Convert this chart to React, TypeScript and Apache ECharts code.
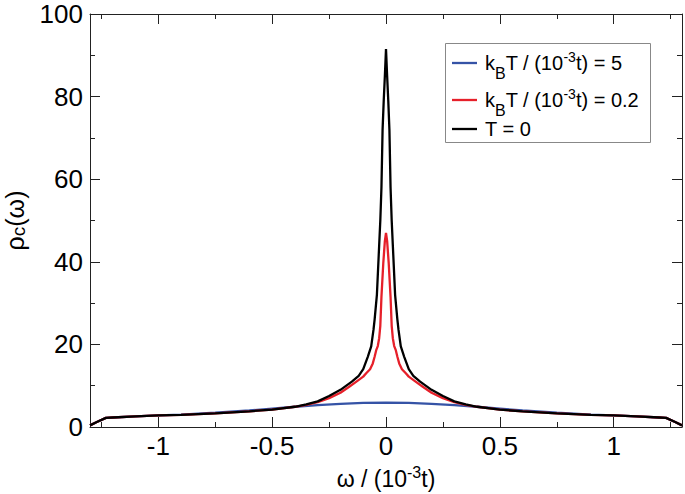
import React, { useEffect, useRef } from "react";
import * as echarts from "echarts";

const FONT = "Liberation Sans, Arial, Helvetica, sans-serif";

const seriesNames = ["kBT/(1e-3 t) = 5", "kBT/(1e-3 t) = 0.2", "T = 0"];
const legendLabels = [
  "{n|k}{sub|B}{n|T / (10}{sup|-3}{n|t) = 5}",
  "{n|k}{sub|B}{n|T / (10}{sup|-3}{n|t) = 0.2}",
  "{n|T = 0}",
];
const seriesColors = ["#3553a6", "#e6202a", "#000000"];

const xMajorTicks = [-1, -0.5, 0, 0.5, 1];
const xMinorTicks = [-1.25, -0.75, -0.25, 0.25, 0.75, 1.25];

// T = 0 (black)
const blackOmega = [
  -1.3, -1.27, -1.23, -1.2, -1.1, -1.0, -0.9, -0.75, -0.6, -0.5, -0.4, -0.35, -0.3, -0.25, -0.2, -0.15,
  -0.12, -0.1, -0.08, -0.065, -0.055, -0.05, -0.04, -0.03, -0.025, -0.02, -0.015, -0.01, -0.005, 0,
  0.005, 0.01, 0.015, 0.02, 0.025, 0.03, 0.04, 0.05, 0.055, 0.065, 0.08, 0.1, 0.12, 0.15, 0.2, 0.25,
  0.3, 0.35, 0.4, 0.5, 0.6, 0.75, 0.9, 1.0, 1.1, 1.2, 1.23, 1.27, 1.3,
];
const blackRho = [
  0.4, 1.2, 2.2, 2.3, 2.55, 2.8, 2.95, 3.3, 3.8, 4.2, 4.9, 5.5, 6.2, 7.5, 9.0, 11.0,
  12.4, 14.0, 17.0, 19.5, 23.5, 26.0, 32.0, 44.0, 50.0, 58.0, 72.0, 79.0, 85.0, 91.5,
  85.0, 79.0, 72.0, 58.0, 50.0, 44.0, 32.0, 26.0, 23.5, 19.5, 17.0, 14.0, 12.4, 11.0, 9.0, 7.5,
  6.2, 5.5, 4.9, 4.2, 3.8, 3.3, 2.95, 2.8, 2.55, 2.3, 2.2, 1.2, 0.4,
];

// kBT = 0.2 (red)
const redOmega = [
  -1.3, -1.27, -1.23, -1.2, -1.1, -1.0, -0.9, -0.75, -0.6, -0.5, -0.4, -0.35, -0.3, -0.25, -0.2, -0.16,
  -0.13, -0.1, -0.087, -0.07, -0.058, -0.05, -0.043, -0.036, -0.03, -0.025, -0.02, -0.012, -0.005, 0,
  0.005, 0.012, 0.02, 0.025, 0.03, 0.036, 0.043, 0.05, 0.058, 0.07, 0.087, 0.1, 0.13, 0.16, 0.2, 0.25,
  0.3, 0.35, 0.4, 0.5, 0.6, 0.75, 0.9, 1.0, 1.1, 1.2, 1.23, 1.27, 1.3,
];
const redRho = [
  0.4, 1.2, 2.2, 2.3, 2.55, 2.8, 2.95, 3.3, 3.8, 4.2, 4.9, 5.35, 6.0, 7.0, 8.3, 9.8,
  11.0, 12.2, 13.0, 14.0, 15.4, 17.0, 18.6, 19.6, 21.5, 24.5, 31.5, 39.6, 45.0, 47.0,
  45.0, 39.6, 31.5, 24.5, 21.5, 19.6, 18.6, 17.0, 15.4, 14.0, 13.0, 12.2, 11.0, 9.8, 8.3, 7.0,
  6.0, 5.35, 4.9, 4.2, 3.8, 3.3, 2.95, 2.8, 2.55, 2.3, 2.2, 1.2, 0.4,
];

// kBT = 5 (blue)
const blueOmega = [
  -1.3, -1.27, -1.23, -1.2, -1.1, -1.0, -0.9, -0.75, -0.6, -0.5, -0.4, -0.3, -0.2, -0.1, 0,
  0.1, 0.2, 0.3, 0.4, 0.5, 0.6, 0.75, 0.9, 1.0, 1.1, 1.2, 1.23, 1.27, 1.3,
];
const blueRho = [
  0.4, 1.2, 2.2, 2.3, 2.55, 2.8, 3.0, 3.45, 4.0, 4.45, 4.9, 5.3, 5.6, 5.85, 5.9,
  5.85, 5.6, 5.3, 4.9, 4.45, 4.0, 3.45, 3.0, 2.8, 2.55, 2.3, 2.2, 1.2, 0.4,
];

const zip = (xs: number[], ys: number[]) => xs.map((x, i) => [x, ys[i]]);

export default function App() {
  const ref = useRef<HTMLDivElement>(null);
  useEffect(() => {
    if (!ref.current) return;
    const chart = echarts.init(ref.current, undefined, { renderer: "svg" });
    const gridRect = { left: 90, top: 14, width: 592, height: 413, containLabel: false, outerBoundsMode: "none" };
    const axisLine = { show: true, onZero: false, lineStyle: { color: "#222", width: 1 } };
    const noLine = { show: false, onZero: false };
    const tickStyle = { color: "#222", width: 1 };

    const legendRich = {
      n: { fontSize: 20, fontFamily: FONT, fill: "#000" },
      sup: { fontSize: 14, fontFamily: FONT, fill: "#000", padding: [0, 0, 12, 0] },
      sub: { fontSize: 16, fontFamily: FONT, fill: "#000", padding: [20, 0, 0, 0] },
    };
    const legendRowsY = [63, 100, 129];
    const legendGraphic: any[] = [
      {
        type: "rect",
        shape: { x: 445.5, y: 43.5, width: 205, height: 99 },
        style: { fill: "#fff", stroke: "#888", lineWidth: 1 },
        z: 100,
      },
    ];
    seriesNames.forEach((_, i) => {
      legendGraphic.push({
        type: "line",
        shape: { x1: 452, y1: legendRowsY[i], x2: 477, y2: legendRowsY[i] },
        style: { stroke: seriesColors[i], lineWidth: 2.3 },
        z: 101,
      });
      legendGraphic.push({
        type: "text",
        x: 485,
        y: legendRowsY[i],
        style: {
          text: legendLabels[i],
          rich: legendRich,
          fontSize: 20,
          fontFamily: FONT,
          fill: "#000",
          verticalAlign: "middle",
          align: "left",
        },
        z: 101,
      });
    });

    const option: any = {
      animation: false,
      backgroundColor: "#fff",
      textStyle: { fontFamily: FONT },
      grid: [{ ...gridRect }, { ...gridRect }],
      graphic: legendGraphic,
      xAxis: [
        {
          gridIndex: 0,
          type: "value",
          position: "bottom",
          min: -1.3,
          max: 1.3,
          axisLine,
          splitLine: { show: false },
          axisTick: { show: true, inside: true, length: 10, lineStyle: tickStyle, customValues: xMajorTicks },
          axisLabel: {
            show: true,
            customValues: xMajorTicks,
            fontSize: 26,
            fontFamily: FONT,
            color: "#000",
            margin: 6,
          },
          name: "{n|ω / (10}{sup|-3}{n|t)}",
          nameLocation: "middle",
          nameGap: 38,
          nameTextStyle: {
            fontFamily: FONT,
            fontSize: 23,
            color: "#000",
            rich: {
              n: { fontSize: 23, lineHeight: 28, fontFamily: FONT, color: "#000" },
              sup: { fontSize: 16, lineHeight: 14, padding: [0, 0, 14, 0], fontFamily: FONT, color: "#000" },
            },
          },
        },
        {
          gridIndex: 0,
          type: "value",
          position: "top",
          min: -1.3,
          max: 1.3,
          axisLine,
          splitLine: { show: false },
          axisTick: { show: true, inside: true, length: 10, lineStyle: tickStyle, customValues: xMajorTicks },
          axisLabel: { show: false },
        },
        {
          gridIndex: 1,
          type: "value",
          position: "bottom",
          min: -1.3,
          max: 1.3,
          axisLine: noLine,
          splitLine: { show: false },
          axisTick: { show: true, inside: true, length: 5, lineStyle: tickStyle, customValues: xMinorTicks },
          axisLabel: { show: false },
        },
        {
          gridIndex: 1,
          type: "value",
          position: "top",
          min: -1.3,
          max: 1.3,
          axisLine: noLine,
          splitLine: { show: false },
          axisTick: { show: true, inside: true, length: 5, lineStyle: tickStyle, customValues: xMinorTicks },
          axisLabel: { show: false },
        },
      ],
      yAxis: [
        {
          gridIndex: 0,
          type: "value",
          position: "left",
          min: 0,
          max: 100,
          interval: 20,
          axisLine,
          splitLine: { show: false },
          axisTick: { show: true, inside: true, length: 10, lineStyle: tickStyle },
          minorTick: { show: true, splitNumber: 2, length: 5, lineStyle: tickStyle },
          minorSplitLine: { show: false },
          axisLabel: { fontSize: 26, fontFamily: FONT, color: "#000", margin: 7 },
          name: "{n|ρ}{sub|c}{n|(ω)}",
          nameLocation: "middle",
          nameRotate: 90,
          nameGap: 60,
          nameTextStyle: {
            fontFamily: FONT,
            fontSize: 25,
            color: "#000",
            rich: {
              n: { fontSize: 25, lineHeight: 30, fontFamily: FONT, color: "#000" },
              sub: { fontSize: 19, lineHeight: 22, padding: [6, 0, 0, 0], fontFamily: FONT, color: "#000" },
            },
          },
        },
        {
          gridIndex: 0,
          type: "value",
          position: "right",
          min: 0,
          max: 100,
          interval: 20,
          axisLine,
          splitLine: { show: false },
          axisTick: { show: true, inside: true, length: 10, lineStyle: tickStyle },
          minorTick: { show: true, splitNumber: 2, length: 5, lineStyle: tickStyle },
          axisLabel: { show: false },
        },
        { gridIndex: 1, type: "value", min: 0, max: 100, show: false, axisLine: noLine },
        { gridIndex: 1, type: "value", min: 0, max: 100, show: false, position: "right", axisLine: noLine },
      ],
      series: [
        { omega: blueOmega, rho: blueRho },
        { omega: redOmega, rho: redRho },
        { omega: blackOmega, rho: blackRho },
      ].map((s, i) => ({
        name: seriesNames[i],
        type: "line",
        xAxisIndex: 0,
        yAxisIndex: 0,
        data: zip(s.omega, s.rho),
        showSymbol: false,
        symbol: "none",
        color: seriesColors[i],
        lineStyle: { color: seriesColors[i], width: 2.3 },
        z: 2 + i,
      })),
    };
    chart.setOption(option);
    return () => chart.dispose();
  }, []);
  return (
    <div
      ref={ref}
      style={{ position: "absolute", left: 0, top: 0, width: 685, height: 494, background: "#fff" }}
    />
  );
}
